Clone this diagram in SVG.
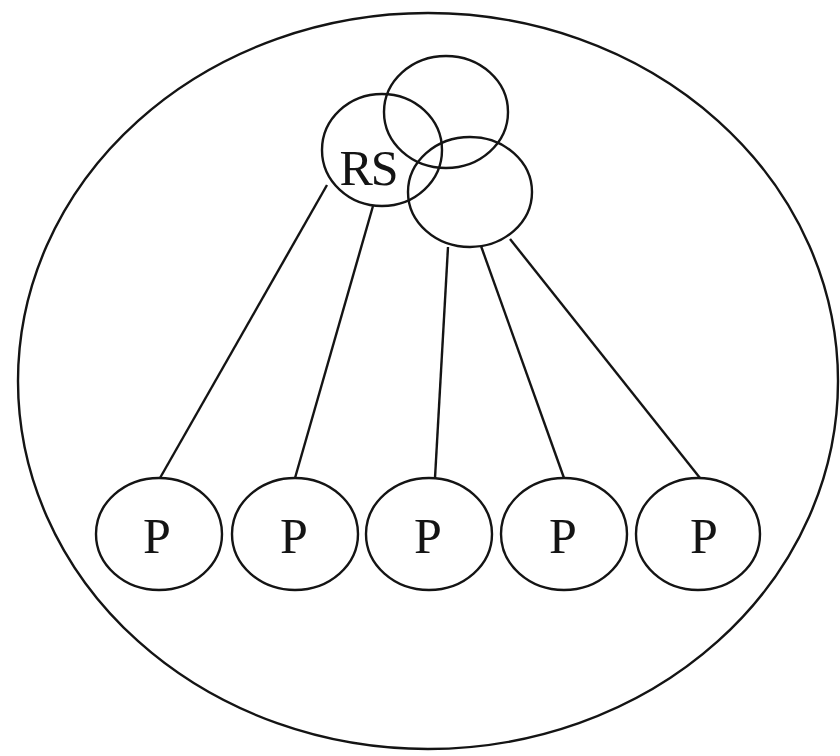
<svg xmlns="http://www.w3.org/2000/svg" width="840" height="756" viewBox="0 0 840 756">
<style>
.o{fill:none;stroke:#141414;stroke-width:2.4}
.c{stroke:#141414;stroke-width:2.4;fill:none}
.t{font-family:"Liberation Serif",serif;font-size:50px;fill:#141414;text-anchor:middle}
</style>
<rect width="840" height="756" fill="#ffffff"/>
<g id="boundary"><ellipse cx="428" cy="381" rx="410" ry="368" class="o" fill="#fbfcfd"/></g>
<g id="connectors">
<line x1="327" y1="185" x2="160" y2="478" class="c"/>
<line x1="373" y1="206" x2="295" y2="478" class="c"/>
<line x1="448" y1="247" x2="435" y2="478" class="c"/>
<line x1="481" y1="246" x2="564" y2="478" class="c"/>
<line x1="510" y1="239" x2="700" y2="478" class="c"/>
</g>
<g id="top-circle"><ellipse cx="446" cy="112" rx="62" ry="56" class="o"/></g>
<g id="rs"><ellipse cx="382" cy="150" rx="60" ry="56" class="o"/><text x="368" y="185" class="t" style="letter-spacing:-2px">RS</text></g>
<g id="right-circle"><ellipse cx="470" cy="192" rx="62" ry="55" class="o"/></g>
<g id="p1"><ellipse cx="159" cy="534" rx="63" ry="56" class="o"/><text x="157" y="553" class="t">P</text></g>
<g id="p2"><ellipse cx="295" cy="534" rx="63" ry="56" class="o"/><text x="294" y="553" class="t">P</text></g>
<g id="p3"><ellipse cx="429" cy="534" rx="63" ry="56" class="o"/><text x="428" y="553" class="t">P</text></g>
<g id="p4"><ellipse cx="564" cy="534" rx="63" ry="56" class="o"/><text x="563" y="553" class="t">P</text></g>
<g id="p5"><ellipse cx="698" cy="534" rx="62" ry="56" class="o"/><text x="704" y="553" class="t">P</text></g>
</svg>
